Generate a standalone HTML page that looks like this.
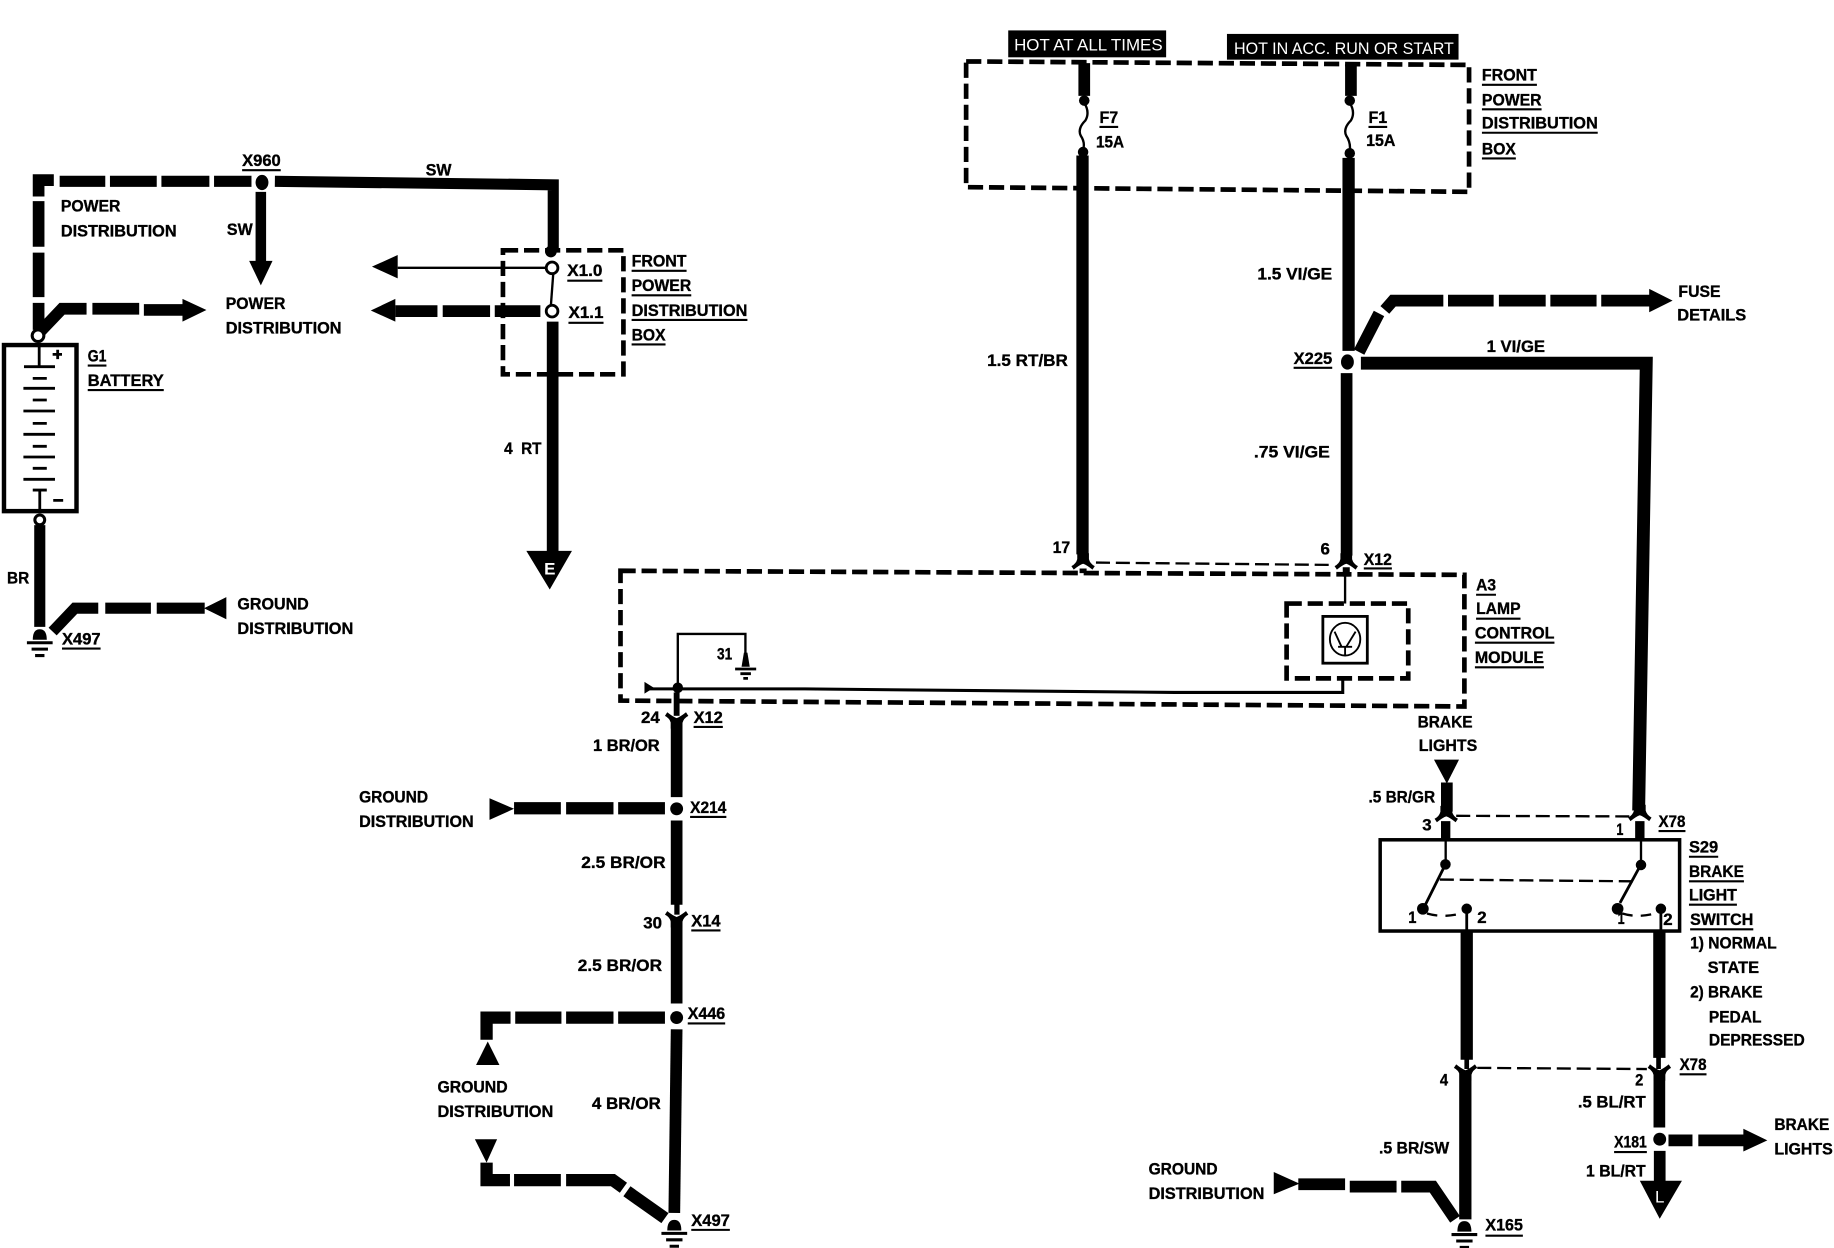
<!DOCTYPE html>
<html><head><meta charset="utf-8"><title>Brake light wiring diagram</title>
<style>
html,body{margin:0;padding:0;background:#fff}
svg{display:block}
text{font-family:"Liberation Sans",sans-serif;font-weight:700;font-size:14.5px;fill:#000;stroke:#000;stroke-width:.3}
.w{fill:none;stroke:#000;stroke-width:10}
.t{fill:none;stroke:#000;stroke-width:2}
.d{fill:none;stroke:#000;stroke-width:4;stroke-dasharray:13 5}
.l{fill:none;stroke:#000;stroke-width:2;stroke-dasharray:12 5}
.u{fill:none;stroke:#000;stroke-width:1.8}
</style></head><body>
<svg xmlns="http://www.w3.org/2000/svg" width="1834" height="1248" viewBox="0 0 1568 1067">
<defs>
<path id="cd" d="M-5,-10L-5,-5Q-6,-1 -10,1L-8,4Q-3,0 0,-1Q3,0 8,4L10,1Q6,-1 5,-5L5,-10Z"/>
<g id="gnd"><path d="M-6,0Q-6,-9 0,-9Q6,-9 6,0Z"/><path d="M-11,2.5H11M-7,8H7M-4,13.5H4" class="u" style="stroke-width:2.6"/></g>
</defs>
<rect width="1568" height="1067" fill="#fff"/>

<!-- LEFT: battery feed -->
<path class="w" d="M51,155H90M94,155H134M138,155H179M183,155H215" style="stroke-width:9.5"/>
<path class="w" d="M33,168V154H46" />
<path class="w" d="M33,172V211M33,216V254M33,259V282"/>
<path class="w" d="M33,285L53,264H74M79,264H119M123,265H157"/>
<path d="M156,255.5L176.500,265L156,275Z"/>
<ellipse cx="224" cy="156" rx="5.500" ry="6.500"/>
<path class="w" d="M235,155L473,158V215" style="stroke-width:9.500"/>
<circle cx="471" cy="215" r="5"/>
<path class="w" d="M223,164V224" style="stroke-width:9"/>
<path d="M213,223H233L223,244Z"/>
<path class="t" d="M340,229H467"/>
<path d="M318,228L340,218V238Z"/>
<path class="t" d="M473,234L471,261"/>
<circle cx="472" cy="229" r="5" fill="#fff" stroke="#000" stroke-width="2.400"/>
<circle cx="472" cy="266" r="5" fill="#fff" stroke="#000" stroke-width="2.400"/>
<path d="M317,265.500L338,255.500V275Z"/>
<path class="w" d="M338,266H374M378.500,266H419M423,266H462"/>
<path class="w" d="M472.500,275V472"/>
<path d="M450,471H489L470,504Z"/>
<text x="470" y="491" text-anchor="middle" style="fill:#fff;stroke:none">E</text>
<rect class="d" x="430" y="214" width="103" height="106"/>

<!-- Battery -->
<rect x="3.400" y="295" width="62" height="142" fill="#fff" stroke="#000" stroke-width="3.800"/>
<circle cx="32.500" cy="287" r="5" fill="#fff" stroke="#000" stroke-width="2.600"/>
<path class="t" style="stroke-width:2.400" d="M33.500,293V313.500M20.500,313.500H47M28,323.500H40M20,332H47M28,342H40M20,351.400H47M28,362H40M20,371.300H47M28,381.600H40M20,390.700H47M28,400.400H40M20,409.800H47M28,419H40M34,419V438M45.500,427.800H54M45,303H53M49.300,299V307"/>
<circle cx="34" cy="444.500" r="4.200" fill="#fff" stroke="#000" stroke-width="2.600"/>
<path class="w" d="M34,449V536" style="stroke-width:9.500"/>
<use href="#gnd" x="34" y="547"/>
<path class="w" d="M45,540L64,520H84M90,520H129M134,520H175" style="stroke-width:9.500"/>
<path d="M174.400,520L193.500,510.500V529.400Z"/>

<!-- TOP RIGHT -->
<rect x="862" y="26" width="135" height="23"/>
<rect x="1049" y="29" width="198" height="22"/>
<text x="867" y="43" textLength="127" lengthAdjust="spacingAndGlyphs" style="fill:#fff;font-weight:400;stroke:none">HOT AT ALL TIMES</text>
<text x="1055" y="46" textLength="188" lengthAdjust="spacingAndGlyphs" style="fill:#fff;font-weight:400;stroke:none">HOT IN ACC. RUN OR START</text>
<path class="d" d="M826,52.500L1256,55.500V164L826,160Z"/>
<path class="w" d="M927,54V82M1155,55V82"/>
<circle cx="927" cy="86" r="4.500"/><circle cx="926" cy="130" r="4.500"/>
<circle cx="1154" cy="86" r="4.500"/><circle cx="1154" cy="131" r="4.500"/>
<path class="t" d="M927,88Q932,96 928,103Q921,110 924,116Q928,122 926,128M1154,88Q1159,96 1155,103Q1148,110 1151,116Q1155,122 1154,129"/>
<path class="w" d="M925.500,133V474" style="stroke-width:10.500"/>
<path class="w" d="M1153,135V300" style="stroke-width:10.500"/>
<ellipse cx="1152" cy="309.500" rx="5.500" ry="6.500"/>
<path class="w" d="M1151.300,319V475"/>
<path class="w" d="M1163.500,310.500H1407.500L1401,693" style="stroke-width:11"/>
<path class="w" d="M1162,301L1179,268M1184,265L1191,257H1234M1238,257H1277M1281.500,257H1321.500M1325.500,257H1365M1369,257H1411"/>
<path d="M1410,247L1430,257L1410,267Z"/>
<use href="#cd" x="926" y="483"/><use href="#cd" x="1151" y="483"/>
<path class="l" d="M937,481L1140,483"/>
<path d="M923,486H929V490H923ZM1148,485H1154V493H1148Z"/>

<!-- LAMP MODULE -->
<path class="d" d="M530.500,488L1252,491.500V604L530.500,599Z"/>
<rect class="d" x="1100" y="516" width="104" height="64"/>
<rect x="1131" y="527" width="38" height="40" fill="#fff" stroke="#000" stroke-width="2.400"/>
<ellipse cx="1150" cy="546.500" rx="13" ry="14" fill="none" stroke="#000" stroke-width="1.600"/>
<path class="t" style="stroke-width:1.600" d="M1141,540L1147,553M1159,540L1151,553M1144,553H1156M1150,553V560"/>
<path class="t" d="M1150,490V516"/>
<path class="t" style="stroke-width:2.600" d="M1148,580V592H1004L688,589H552"/>
<path d="M551,583L559,588L551,593Z"/>
<circle cx="579.500" cy="588" r="4.500"/>
<path class="t" d="M579.500,588V542H637.300V560"/>
<path d="M634,570L636,558H639L641,570Z"/>
<path class="t" d="M628.500,572H646.500M633,576H642M635.500,580H639.500" style="stroke-width:2.400"/>
<path d="M576,592H581V612H576Z"/>
<use href="#cd" transform="translate(578.500,613) scale(1,-1)"/>
<path class="w" d="M578.500,618V681.500"/>
<circle cx="578.500" cy="691.500" r="5.500"/>
<path class="w" d="M578.500,701.500V773.500"/>
<path d="M576.500,773H581V782H576.500Z"/>
<use href="#cd" transform="translate(578.500,783) scale(1,-1)"/>
<path class="w" d="M578.500,787V858"/>
<circle cx="578.500" cy="870" r="5.500"/>
<path class="w" d="M578.500,880L576.500,1037"/>
<use href="#gnd" x="576.500" y="1052"/>
<path d="M418.500,682.500L439.500,691.500L418.500,701Z"/>
<path class="w" d="M439.500,691H479.500M484,691H524.500M528.500,691H568.500" style="stroke-width:10.500"/>
<path class="w" d="M416,889V870H436.500M440.500,870H480M484,870H524.500M528.500,870H568.500" style="stroke-width:10.500"/>
<path d="M417,890.500L427,910.500H407Z"/>
<path d="M406,974H425L416,994Z"/>
<path class="w" d="M416,994V1009H436M439.500,1009H479.500M484,1009H524L533,1015.500M536,1018.500L568.500,1041.500" style="stroke-width:10.500"/>

<!-- S29 SWITCH -->
<path d="M1226,649.500H1247.400L1237,670Z"/>
<path class="w" d="M1237,669V694"/>
<use href="#cd" x="1236.500" y="699"/>
<use href="#cd" x="1402" y="698"/>
<path class="l" d="M1245,697.500L1393,698"/>
<path d="M1232,702H1240V718H1232ZM1398,702H1406V718H1398Z"/>
<rect x="1180" y="718" width="256" height="78" fill="#fff" stroke="#000" stroke-width="3"/>
<path class="t" d="M1236,718V737M1403,718V737"/>
<circle cx="1235.800" cy="739" r="4.500"/><circle cx="1403" cy="739.500" r="4.500"/>
<circle cx="1216.500" cy="777" r="5"/><circle cx="1254" cy="777" r="4.500"/>
<circle cx="1383" cy="777" r="5"/><circle cx="1420" cy="777" r="4.500"/>
<path class="t" style="stroke-width:2.400" d="M1235.800,739L1218.400,774M1403,739L1385,772M1254,777V796M1420,777V796"/>
<path class="l" d="M1231,752L1396.500,753.500"/>
<path class="l" style="stroke-dasharray:9 7" d="M1220,781Q1234,785 1249,781M1387,781Q1400,785 1415,781"/>
<path class="w" d="M1254,796V906" style="stroke-width:10.500"/>
<path class="w" d="M1418.700,796V904.500" style="stroke-width:10.500"/>
<path d="M1252,905H1256V914H1252ZM1416,904H1420V914H1416Z"/>
<use href="#cd" transform="translate(1253,914) scale(1,-1)"/>
<use href="#cd" transform="translate(1418.700,914) scale(1,-1)"/>
<path class="l" d="M1263,913L1408,914"/>
<path class="w" d="M1252.800,918V1042.500" style="stroke-width:10.500"/>
<path class="w" d="M1418.700,918V964"/>
<circle cx="1419" cy="974" r="5.500"/>
<path class="w" d="M1419,984V1011"/>
<path d="M1402,1009.500H1438L1419,1042Z"/>
<text x="1419" y="1028" text-anchor="middle" style="fill:#fff;font-weight:400;stroke:none">L</text>
<path class="w" d="M1426.500,975H1447M1452,975H1491"/>
<path d="M1490.500,965L1511,975L1490.500,984.500Z"/>
<path d="M1089,1002L1111,1012L1089,1021Z"/>
<path class="w" d="M1110,1012.500H1150M1154,1014.500H1194M1198,1014.500H1225L1244,1042.500"/>
<use href="#gnd" x="1252" y="1053"/>

<!-- LABELS -->
<path class="u" d="M207,145.500H240M485,240H515M486,276H516M540,231.500H587M540,252.500H591M540,273.500H639M540,294.500H569M75,312.500H91M75,333.500H140M53,554.500H86M940,108.500H956M1170,108.500H1186M1267,72.500H1314M1267,93.500H1318M1267,113.500H1366M1267,135.500H1296M1106,314.500H1139M1166,486H1190M1262,508.500H1279M1262,529H1300M1261,549.500H1329M1261,570.500H1320M593,621.500H618M590,698.500H621M591,795.500H616M588,875H620M591,1051.500H624M1418,710.500H1441M1444,732.500H1469M1444,753.500H1491M1444,773.500H1485M1445,794.500H1499M1436,918.500H1459M1380,985H1408M1270,1056.500H1302"/>
<text x="207" y="142" textLength="33" lengthAdjust="spacingAndGlyphs">X960</text>
<text x="364" y="150" textLength="22" lengthAdjust="spacingAndGlyphs">SW</text>
<text x="52" y="181" textLength="51" lengthAdjust="spacingAndGlyphs">POWER</text>
<text x="52" y="202" textLength="99" lengthAdjust="spacingAndGlyphs">DISTRIBUTION</text>
<text x="194" y="201" textLength="22" lengthAdjust="spacingAndGlyphs">SW</text>
<text x="193" y="264" textLength="51" lengthAdjust="spacingAndGlyphs">POWER</text>
<text x="193" y="285" textLength="99" lengthAdjust="spacingAndGlyphs">DISTRIBUTION</text>
<text x="485" y="236" textLength="30" lengthAdjust="spacingAndGlyphs">X1.0</text>
<text x="486" y="272" textLength="30" lengthAdjust="spacingAndGlyphs">X1.1</text>
<text x="540" y="228" textLength="47" lengthAdjust="spacingAndGlyphs">FRONT</text>
<text x="540" y="249" textLength="51" lengthAdjust="spacingAndGlyphs">POWER</text>
<text x="540" y="270" textLength="99" lengthAdjust="spacingAndGlyphs">DISTRIBUTION</text>
<text x="540" y="291" textLength="29" lengthAdjust="spacingAndGlyphs">BOX</text>
<text x="75" y="309" textLength="16" lengthAdjust="spacingAndGlyphs">G1</text>
<text x="75" y="330" textLength="65" lengthAdjust="spacingAndGlyphs">BATTERY</text>
<text x="431" y="388" textLength="32" lengthAdjust="spacingAndGlyphs" xml:space="preserve">4  RT</text>
<text x="6" y="499" textLength="19" lengthAdjust="spacingAndGlyphs">BR</text>
<text x="203" y="521" textLength="61" lengthAdjust="spacingAndGlyphs">GROUND</text>
<text x="203" y="542" textLength="99" lengthAdjust="spacingAndGlyphs">DISTRIBUTION</text>
<text x="53" y="551" textLength="33" lengthAdjust="spacingAndGlyphs">X497</text>

<text x="940" y="105" textLength="16" lengthAdjust="spacingAndGlyphs">F7</text>
<text x="937" y="126" textLength="24" lengthAdjust="spacingAndGlyphs">15A</text>
<text x="1170" y="105" textLength="16" lengthAdjust="spacingAndGlyphs">F1</text>
<text x="1168" y="125" textLength="25" lengthAdjust="spacingAndGlyphs">15A</text>
<text x="1267" y="69" textLength="47" lengthAdjust="spacingAndGlyphs">FRONT</text>
<text x="1267" y="90" textLength="51" lengthAdjust="spacingAndGlyphs">POWER</text>
<text x="1267" y="110" textLength="99" lengthAdjust="spacingAndGlyphs">DISTRIBUTION</text>
<text x="1267" y="132" textLength="29" lengthAdjust="spacingAndGlyphs">BOX</text>
<text x="1075" y="239" textLength="64" lengthAdjust="spacingAndGlyphs">1.5 VI/GE</text>
<text x="844" y="313" textLength="69" lengthAdjust="spacingAndGlyphs">1.5 RT/BR</text>
<text x="1106" y="311" textLength="33" lengthAdjust="spacingAndGlyphs">X225</text>
<text x="1072" y="391" textLength="65" lengthAdjust="spacingAndGlyphs">.75 VI/GE</text>
<text x="1435" y="254" textLength="36" lengthAdjust="spacingAndGlyphs">FUSE</text>
<text x="1434" y="274" textLength="59" lengthAdjust="spacingAndGlyphs">DETAILS</text>
<text x="1271" y="301" textLength="50" lengthAdjust="spacingAndGlyphs">1 VI/GE</text>
<text x="900" y="473" textLength="15" lengthAdjust="spacingAndGlyphs">17</text>
<text x="1129" y="474" textLength="8" lengthAdjust="spacingAndGlyphs">6</text>
<text x="1166" y="483" textLength="24" lengthAdjust="spacingAndGlyphs">X12</text>

<text x="1262" y="505" textLength="17" lengthAdjust="spacingAndGlyphs">A3</text>
<text x="1262" y="525" textLength="38" lengthAdjust="spacingAndGlyphs">LAMP</text>
<text x="1261" y="546" textLength="68" lengthAdjust="spacingAndGlyphs">CONTROL</text>
<text x="1261" y="567" textLength="59" lengthAdjust="spacingAndGlyphs">MODULE</text>
<text x="613" y="564" textLength="13" lengthAdjust="spacingAndGlyphs">31</text>
<text x="548" y="618" textLength="16" lengthAdjust="spacingAndGlyphs">24</text>
<text x="593" y="618" textLength="25" lengthAdjust="spacingAndGlyphs">X12</text>
<text x="507" y="642" textLength="57" lengthAdjust="spacingAndGlyphs">1 BR/OR</text>
<text x="307" y="686" textLength="59" lengthAdjust="spacingAndGlyphs">GROUND</text>
<text x="307" y="707" textLength="98" lengthAdjust="spacingAndGlyphs">DISTRIBUTION</text>
<text x="590" y="695" textLength="31" lengthAdjust="spacingAndGlyphs">X214</text>
<text x="497" y="742" textLength="72" lengthAdjust="spacingAndGlyphs">2.5 BR/OR</text>
<text x="550" y="794" textLength="16" lengthAdjust="spacingAndGlyphs">30</text>
<text x="591" y="792" textLength="25" lengthAdjust="spacingAndGlyphs">X14</text>
<text x="494" y="830" textLength="72" lengthAdjust="spacingAndGlyphs">2.5 BR/OR</text>
<text x="588" y="871" textLength="32" lengthAdjust="spacingAndGlyphs">X446</text>
<text x="374" y="934" textLength="60" lengthAdjust="spacingAndGlyphs">GROUND</text>
<text x="374" y="955" textLength="99" lengthAdjust="spacingAndGlyphs">DISTRIBUTION</text>
<text x="506" y="948" textLength="59" lengthAdjust="spacingAndGlyphs">4 BR/OR</text>
<text x="591" y="1048" textLength="33" lengthAdjust="spacingAndGlyphs">X497</text>

<text x="1212" y="622" textLength="47" lengthAdjust="spacingAndGlyphs">BRAKE</text>
<text x="1213" y="642" textLength="50" lengthAdjust="spacingAndGlyphs">LIGHTS</text>
<text x="1170" y="686" textLength="57" lengthAdjust="spacingAndGlyphs">.5 BR/GR</text>
<text x="1216" y="710" textLength="8" lengthAdjust="spacingAndGlyphs">3</text>
<text x="1382" y="714" textLength="6" lengthAdjust="spacingAndGlyphs">1</text>
<text x="1418" y="707" textLength="23" lengthAdjust="spacingAndGlyphs">X78</text>
<text x="1204" y="789" textLength="7" lengthAdjust="spacingAndGlyphs">1</text>
<text x="1263" y="789" textLength="8" lengthAdjust="spacingAndGlyphs">2</text>
<text x="1383" y="790" textLength="6" lengthAdjust="spacingAndGlyphs">1</text>
<text x="1422" y="791" textLength="8" lengthAdjust="spacingAndGlyphs">2</text>
<text x="1444" y="729" textLength="25" lengthAdjust="spacingAndGlyphs">S29</text>
<text x="1444" y="750" textLength="47" lengthAdjust="spacingAndGlyphs">BRAKE</text>
<text x="1444" y="770" textLength="41" lengthAdjust="spacingAndGlyphs">LIGHT</text>
<text x="1445" y="791" textLength="54" lengthAdjust="spacingAndGlyphs">SWITCH</text>
<text x="1445" y="811" textLength="74" lengthAdjust="spacingAndGlyphs">1) NORMAL</text>
<text x="1460" y="832" textLength="44" lengthAdjust="spacingAndGlyphs">STATE</text>
<text x="1445" y="853" textLength="62" lengthAdjust="spacingAndGlyphs">2) BRAKE</text>
<text x="1461" y="874" textLength="45" lengthAdjust="spacingAndGlyphs">PEDAL</text>
<text x="1461" y="894" textLength="82" lengthAdjust="spacingAndGlyphs">DEPRESSED</text>
<text x="1231" y="928" textLength="7" lengthAdjust="spacingAndGlyphs">4</text>
<text x="1398" y="928" textLength="7" lengthAdjust="spacingAndGlyphs">2</text>
<text x="1436" y="915" textLength="23" lengthAdjust="spacingAndGlyphs">X78</text>
<text x="1349" y="947" textLength="58" lengthAdjust="spacingAndGlyphs">.5 BL/RT</text>
<text x="1380" y="981" textLength="28" lengthAdjust="spacingAndGlyphs">X181</text>
<text x="1356" y="1006" textLength="51" lengthAdjust="spacingAndGlyphs">1 BL/RT</text>
<text x="1179" y="986" textLength="60" lengthAdjust="spacingAndGlyphs">.5 BR/SW</text>
<text x="1517" y="966" textLength="47" lengthAdjust="spacingAndGlyphs">BRAKE</text>
<text x="1517" y="987" textLength="50" lengthAdjust="spacingAndGlyphs">LIGHTS</text>
<text x="982" y="1004" textLength="59" lengthAdjust="spacingAndGlyphs">GROUND</text>
<text x="982" y="1025" textLength="99" lengthAdjust="spacingAndGlyphs">DISTRIBUTION</text>
<text x="1270" y="1052" textLength="32" lengthAdjust="spacingAndGlyphs">X165</text>
</svg>
</body></html>
